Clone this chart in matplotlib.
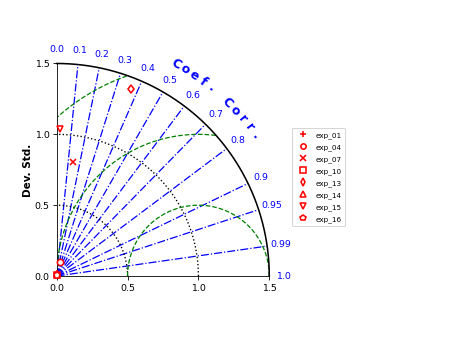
import numpy as np
import matplotlib.pyplot as plt

# Datos del diagrama de Taylor
nombres = ['exp_01', 'exp_04', 'exp_07', 'exp_10', 'exp_13', 'exp_14', 'exp_15', 'exp_16']
marcadores = ['+', 'o', 'x', 's', 'd', '^', 'v', 'p']
std = [0.02, 0.102, 0.813, 0.010, 1.418, 0.015, 1.035, 0.008]
corr = [0.10, 0.23, 0.139, 0.20, 0.368, 0.05, 0.022, 0.30]

corr_ticks = [0.0, 0.1, 0.2, 0.3, 0.4, 0.5, 0.6, 0.7, 0.8, 0.9, 0.95, 0.99, 1.0]
corr_labels = ['0.0', '0.1', '0.2', '0.3', '0.4', '0.5', '0.6', '0.7', '0.8', '0.9', '0.95', '0.99', '1.0']
std_ticks = [0.0, 0.5, 1.0, 1.5]
std_arcs = [0.5, 1.0]
rms_arcs = [0.5, 1.0, 1.5]
std_ref = 1.0
std_max = 1.5

fig = plt.figure(figsize=(6, 4.5), dpi=75)
ax = fig.add_axes([0.126, 0.179, 0.4724, 0.633])
ax.set_xlim(0, std_max)
ax.set_ylim(0, std_max)
ax.set_aspect('equal')
ax.spines['top'].set_visible(False)
ax.spines['right'].set_visible(False)
ax.set_xticks(std_ticks)
ax.set_yticks(std_ticks)
ax.set_xticklabels(['%.1f' % t for t in std_ticks], fontsize=9)
ax.set_yticklabels(['%.1f' % t for t in std_ticks], fontsize=9)
ax.set_ylabel('Dev. Std.', fontsize=10, fontweight='bold', labelpad=1)

th = np.linspace(0, np.pi / 2, 300)

# Lineas de correlacion
for c in corr_ticks[1:-1]:
    a = np.arccos(c)
    ax.plot([0, std_max * np.cos(a)], [0, std_max * np.sin(a)], color='blue', ls='-.', lw=1.2, zorder=1)
for c, lab in zip(corr_ticks, corr_labels):
    a = np.arccos(c)
    ax.text(1.6 * np.cos(a), 1.6 * np.sin(a), lab, color='blue', fontsize=9,
            ha='center', va='center', clip_on=False)

# Titulo curvo "Coef. Corr."
texto = 'Coef. Corr.'
angulos = np.linspace(60.8, 35.3, len(texto))
for ch, ang in zip(texto, angulos):
    r = np.radians(ang)
    ax.text(1.72 * np.cos(r), 1.72 * np.sin(r), ch, color='blue', fontsize=12, fontweight='bold',
            rotation=ang - 90, ha='center', va='center', clip_on=False)

# Arcos de desviacion estandar
for s in std_arcs:
    ax.plot(s * np.cos(th), s * np.sin(th), color='black', ls=':', lw=1.3, zorder=1)
ax.plot(std_max * np.cos(th), std_max * np.sin(th), color='black', lw=1.5, clip_on=False)

# Arcos RMS centrados en la referencia
tt = np.linspace(0, np.pi, 500)
for r in rms_arcs:
    x = std_ref + r * np.cos(tt)
    y = r * np.sin(tt)
    ok = (x >= 0) & (x ** 2 + y ** 2 <= std_max ** 2)
    ax.plot(np.where(ok, x, np.nan), np.where(ok, y, np.nan), color='green', ls='--', lw=1.2, zorder=1)

# Puntos
for n, m, s, c in zip(nombres, marcadores, std, corr):
    a = np.arccos(c)
    if m in ['+', 'x']:
        ax.plot(s * np.cos(a), s * np.sin(a), m, color='red', ms=6, mew=1.5, label=n, clip_on=False, zorder=3)
    else:
        ax.plot(s * np.cos(a), s * np.sin(a), m, mfc='white', mec='red', ms=6, mew=1.5, label=n,
                clip_on=False, zorder=3)

fig.legend(loc='upper left', bbox_to_anchor=(0.64, 0.63), fontsize=7, handletextpad=0.8,
           labelspacing=0.7, borderpad=0.5, markerscale=0.85)

plt.savefig('out.png', dpi=75)
